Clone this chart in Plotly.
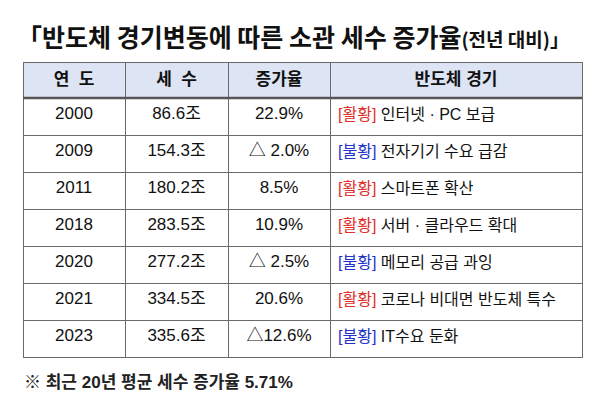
import plotly.graph_objects as go

years = ["2000", "2009", "2011", "2018", "2020", "2021", "2023"]
tax = ["86.6조", "154.3조", "180.2조", "283.5조", "277.2조", "334.5조", "335.6조"]
growth = ["22.9%", "△ 2.0%", "8.5%", "10.9%", "△ 2.5%", "20.6%", "△12.6%"]
phase = ["활황", "불황", "활황", "활황", "불황", "활황", "불황"]
reason = ["인터넷 · PC 보급", "전자기기 수요 급감", "스마트폰 확산",
          "서버 · 클라우드 확대", "메모리 공급 과잉", "코로나 비대면 반도체 특수",
          "IT수요 둔화"]
headers = ["연  도", "세  수", "증가율", "반도체 경기"]

phase_colors = {"활황": "#e0302a", "불황": "#2233cc"}
# trailing <br> stops plotly from re-wrapping the cell on spaces
cycle = [f"<span style='color:{phase_colors[p]}'>[{p}]</span> {r}<br>"
         for p, r in zip(phase, reason)]

W, H = 600, 400
left, right, top = 15, 574, 54
font = "Liberation Sans, Noto Sans CJK KR, Arial, sans-serif"

fig = go.Figure(go.Table(
    domain=dict(x=[left / W, right / W], y=[0, 1 - top / H]),
    columnwidth=[102, 103, 102, 252],
    header=dict(
        values=[f"<b>{h}</b>" for h in headers],
        fill_color="#dde4f4",
        line=dict(color="#6a6a6a", width=1),
        align="center",
        height=36,
        font=dict(family=font, size=17, color="#111111"),
    ),
    cells=dict(
        values=[years, tax, growth, cycle],
        fill_color="white",
        line=dict(color="#6a6a6a", width=1),
        align=["center", "center", "center", "left"],
        height=37,
        font=dict(family=font, size=[17, 17, 17, 16], color="#111111"),
    ),
))

fig.add_shape(type="line", xref="paper", yref="paper",
              x0=left / W, x1=right / W, y0=1 - (top + 36) / H, y1=1 - (top + 36) / H,
              line=dict(color="#555555", width=2.5))

fig.add_annotation(
    text="<b>「반도체 경기변동에 따른 소관 세수 증가율</b><span style='font-size:19px'><b>(전년 대비)」</b></span>",
    xref="paper", yref="paper", x=7 / W, y=1 - 28 / H,
    xanchor="left", yanchor="middle", showarrow=False,
    font=dict(family="Noto Sans CJK KR, sans-serif", size=25, color="#111111"),
)
fig.add_annotation(
    text="<b>※ 최근 20년 평균 세수 증가율 5.71%</b>",
    xref="paper", yref="paper", x=14 / W, y=1 - 374 / H,
    xanchor="left", yanchor="middle", showarrow=False,
    font=dict(family=font, size=17, color="#222222"),
)

fig.update_layout(
    width=W, height=H,
    margin=dict(l=0, r=0, t=0, b=0),
    paper_bgcolor="white",
)

fig.write_html("out.html")
